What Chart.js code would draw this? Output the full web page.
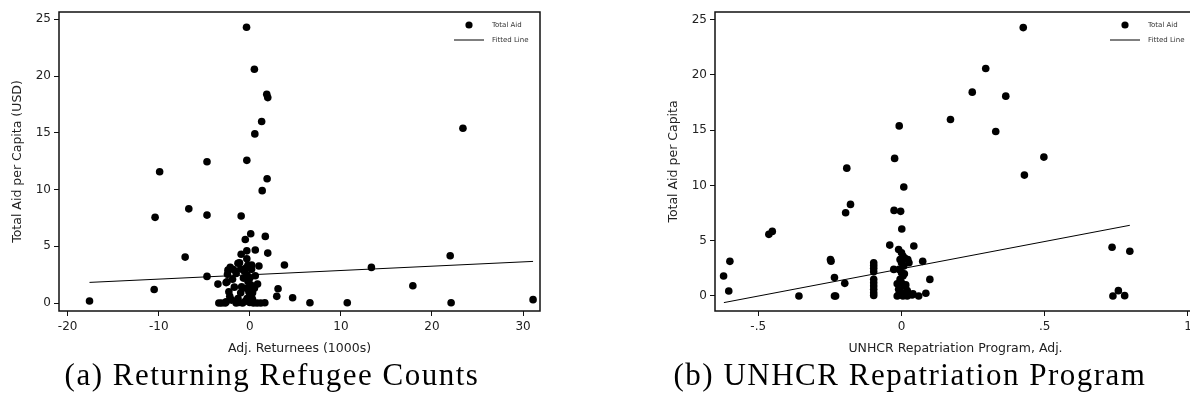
<!DOCTYPE html>
<html><head><meta charset="utf-8">
<script src="https://cdn.jsdelivr.net/npm/chart.js@4"></script>
<style>
html,body{margin:0;padding:0;background:#fff;overflow:hidden;width:1190px;height:417px;}
#wrap{position:relative;width:1190px;height:417px;overflow:hidden;background:#fff;}
.cv{position:absolute;top:0;width:600px;height:360px;}
.cap{position:absolute;font-family:"Liberation Serif","Times New Roman",serif;font-size:31px;line-height:31px;letter-spacing:1.5px;color:#000;white-space:nowrap;transform:translateX(-50%);}
</style></head><body>
<div id="wrap">
<div class="cv" style="left:0px"><canvas id="c1" width="600" height="360"></canvas></div>
<div class="cv" style="left:656px"><canvas id="c2" width="600" height="360"></canvas></div>
<div class="cap" style="left:272px;top:359px">(a) Returning Refugee Counts</div>
<div class="cap" style="left:910px;top:359px">(b) UNHCR Repatriation Program</div>
</div>
<script>
// ---------- Panel (a): returning refugee counts ----------
const aX = [-17.6,-0.36,0.5,1.86,1.97,1.3,0.55,-4.7,-0.33,-9.9,1.9,1.36,-6.7,-10.4,-4.7,-0.95,0.1,-0.5,1.7,-7.1,-0.33,0.6,-0.95,1.97,-0.33,3.8,1.0,-4.7,-10.5,-3.5,3.1,2.96,4.7,-3.4,-3.1,6.6,10.7,13.35,17.9,22.0,22.1,23.4,31.1,
  -2.15,-2.4,-1.8,-1.3,-1.13,-2.45,-2.5,-2.6,-2.3,-2.2,-2.0,-2.6,-2.7,-1.5,-1.2,-0.9,-1.0,-1.3,-0.7,-0.6,-0.4,-0.2,0.2,0.19,-0.3,0.0,-0.2,0.1,-0.4,0.2,-0.1,0.0,0.19,-0.3,0.3,-0.5,0.0,0.4,0.8,1.2,1.65,-0.8,0.85,0.6,0.3,-1.7,-1.9,-1.5,-1.0,0.5];
const aY = [0.18,24.3,20.6,18.4,18.1,16.0,14.9,12.45,12.57,11.57,10.95,9.9,8.3,7.55,7.75,7.67,6.1,5.6,5.87,4.05,4.6,4.67,4.3,4.4,3.9,3.35,3.26,2.35,1.2,1.67,1.26,0.59,0.47,0.0,0.0,0.03,0.03,3.14,1.53,4.17,0.03,15.4,0.3,
  3.14,2.9,2.95,3.5,3.55,2.53,1.88,1.8,1.0,0.6,0.26,0.1,0.0,0.0,0.05,1.44,0.9,0.4,2.2,2.8,3.1,3.35,3.35,2.97,2.5,2.2,1.9,1.6,1.3,1.2,1.0,0.7,0.56,0.4,0.3,0.15,0.05,0.0,0.0,0.0,0.03,0.0,1.67,2.4,0.9,1.4,2.1,2.6,3.0,1.3];
const aFitX = [-17.6, 31.1];
const aFitY = [1.82, 3.67];
const aXTicks = [-20,-10,0,10,20,30];
const aXLabels = ['-20','-10','0','10','20','30'];

// ---------- Panel (b): UNHCR repatriation program ----------
const bX = [-0.621,-0.599,-0.603,-0.463,-0.451,-0.358,-0.248,-0.246,-0.234,-0.234,-0.23,-0.198,-0.195,-0.178,-0.191,
  -0.097,-0.097,-0.097,-0.097,-0.097,-0.097,-0.097,-0.097,-0.097,-0.097,
  -0.01,0.0,0.005,-0.005,0.0,0.008,-0.008,0.0,0.005,-0.005,0.0,0.01,-0.01,0.0,0.005,-0.01,0.015,0.02,-0.015,0.01,0.015,-0.015,0.012,0.02,
  0.425,0.294,0.247,0.364,0.171,-0.008,0.329,-0.024,0.497,0.429,0.008,-0.026,-0.003,0.001,-0.041,0.043,0.074,0.022,-0.027,0.099,0.085,0.04,0.06,0.026,0.037,
  0.735,0.797,0.738,0.757,0.779];
const bY = [1.8,3.13,0.45,5.57,5.84,0.0,3.3,3.15,1.66,0.0,0.0,1.14,7.53,8.28,11.56,
  3.0,2.75,2.5,2.2,1.5,1.2,0.9,0.6,0.3,0.05,
  4.2,3.9,3.6,3.3,3.0,2.7,2.4,2.1,1.8,1.5,1.2,0.9,0.6,0.3,0.0,0.1,0.15,0.0,0.0,2.0,1.0,1.1,3.4,0.5,
  24.27,20.57,18.43,18.07,15.96,15.38,14.87,12.44,12.56,10.93,9.85,7.74,7.65,6.05,4.6,4.52,3.13,3.3,2.4,1.5,0.24,0.2,0.0,3.0,0.09,
  4.4,4.04,0.0,0.48,0.03];
const bFitX = [-0.62, 0.797];
const bFitY = [-0.6, 6.39];
const bXTicks = [-0.5,0,0.5,1];
const bXLabels = ['-.5','0','.5','1'];

const yTicks = [0,5,10,15,20,25];
const yLabels = ['0','5','10','15','20','25'];
const legendLabels = ['Total Aid','Fitted Line'];

const tickFont = {family:'DejaVu Sans', size:12};
const titleFont = {family:'DejaVu Sans', size:12.5};

const framePlugin = {
  id:'frame',
  afterDatasetsDraw(chart){
    const {ctx, chartArea:a} = chart;
    ctx.save();
    ctx.strokeStyle = '#111';
    ctx.lineWidth = 1.5;
    ctx.strokeRect(a.left, a.top, a.right-a.left, a.bottom-a.top);
    // legend
    const r = a.right, t = a.top;
    const pt = chart.data.datasets[1];
    ctx.fillStyle = pt.backgroundColor;
    ctx.beginPath(); ctx.arc(r-71, t+13, 3.6, 0, Math.PI*2); ctx.fill();
    const ln = chart.data.datasets[0];
    ctx.strokeStyle = ln.borderColor; ctx.lineWidth = 1;
    ctx.beginPath(); ctx.moveTo(r-86, t+28); ctx.lineTo(r-56, t+28); ctx.stroke();
    ctx.fillStyle = '#333';
    ctx.font = '7px "DejaVu Sans"';
    ctx.textBaseline = 'middle';
    ctx.fillText(legendLabels[0], r-48, t+13);
    ctx.fillText(legendLabels[1], r-48, t+28);
    ctx.restore();
  }
};

function makeChart(id, xs, ys, fx, fy, xMin, xMax, xTicks, xLabels, xTitle, yTitle, yMin, yMax){
  const pts = xs.map((x,i)=>({x:x, y:ys[i]}));
  const fit = fx.map((x,i)=>({x:x, y:fy[i]}));
  return new Chart(document.getElementById(id), {
    type:'scatter',
    data:{datasets:[
      {label:legendLabels[1], data:fit, showLine:true, borderColor:'#000', borderWidth:1, pointRadius:0, fill:false},
      {label:legendLabels[0], data:pts, backgroundColor:'#000', borderColor:'#000', pointRadius:3.8, pointBorderWidth:0}
    ]},
    options:{
      responsive:false, animation:false,
      layout:{padding:{top:12,right:60,left:0,bottom:0}, autoPadding:false},
      plugins:{legend:{display:false}, tooltip:{enabled:false}},
      scales:{
        x:{type:'linear', min:xMin, max:xMax,
          afterBuildTicks:s=>{s.ticks = xTicks.map(v=>({value:v}));},
          afterFit:s=>{s.height = 49;},
          grid:{drawOnChartArea:false, drawTicks:true, tickLength:5, color:'#111', lineWidth:1},
          border:{display:false},
          ticks:{padding:3.5, color:'#222', font:tickFont, maxRotation:0, autoSkip:false,
            callback:(v)=>{const i = xTicks.findIndex(t=>Math.abs(t-v)<1e-9); return i>=0?xLabels[i]:'';}},
          title:{display:true, text:xTitle, color:'#222', font:titleFont, padding:{top:0,bottom:4}}
        },
        y:{type:'linear', min:yMin, max:yMax,
          afterBuildTicks:s=>{s.ticks = yTicks.map(v=>({value:v}));},
          afterFit:s=>{s.width = 59;},
          grid:{drawOnChartArea:false, drawTicks:true, tickLength:5, color:'#111', lineWidth:1},
          border:{display:false},
          ticks:{padding:3, color:'#222', font:tickFont, autoSkip:false,
            callback:(v)=>{const i = yTicks.findIndex(t=>Math.abs(t-v)<1e-9); return i>=0?yLabels[i]:'';}},
          title:{display:true, text:yTitle, color:'#222', font:titleFont, padding:{top:10,bottom:0}}
        }
      }
    },
    plugins:[framePlugin]
  });
}

makeChart('c1', aX, aY, aFitX, aFitY, -20.95, 31.86, aXTicks, aXLabels,
  'Adj. Returnees (1000s)', 'Total Aid per Capita (USD)', -0.7, 25.64);
makeChart('c2', bX, bY, bFitX, bFitY, -0.651, 1.028, bXTicks, bXLabels,
  'UNHCR Repatriation Program, Adj.', 'Total Aid per Capita', -1.36, 25.68);
</script>
</body></html>
